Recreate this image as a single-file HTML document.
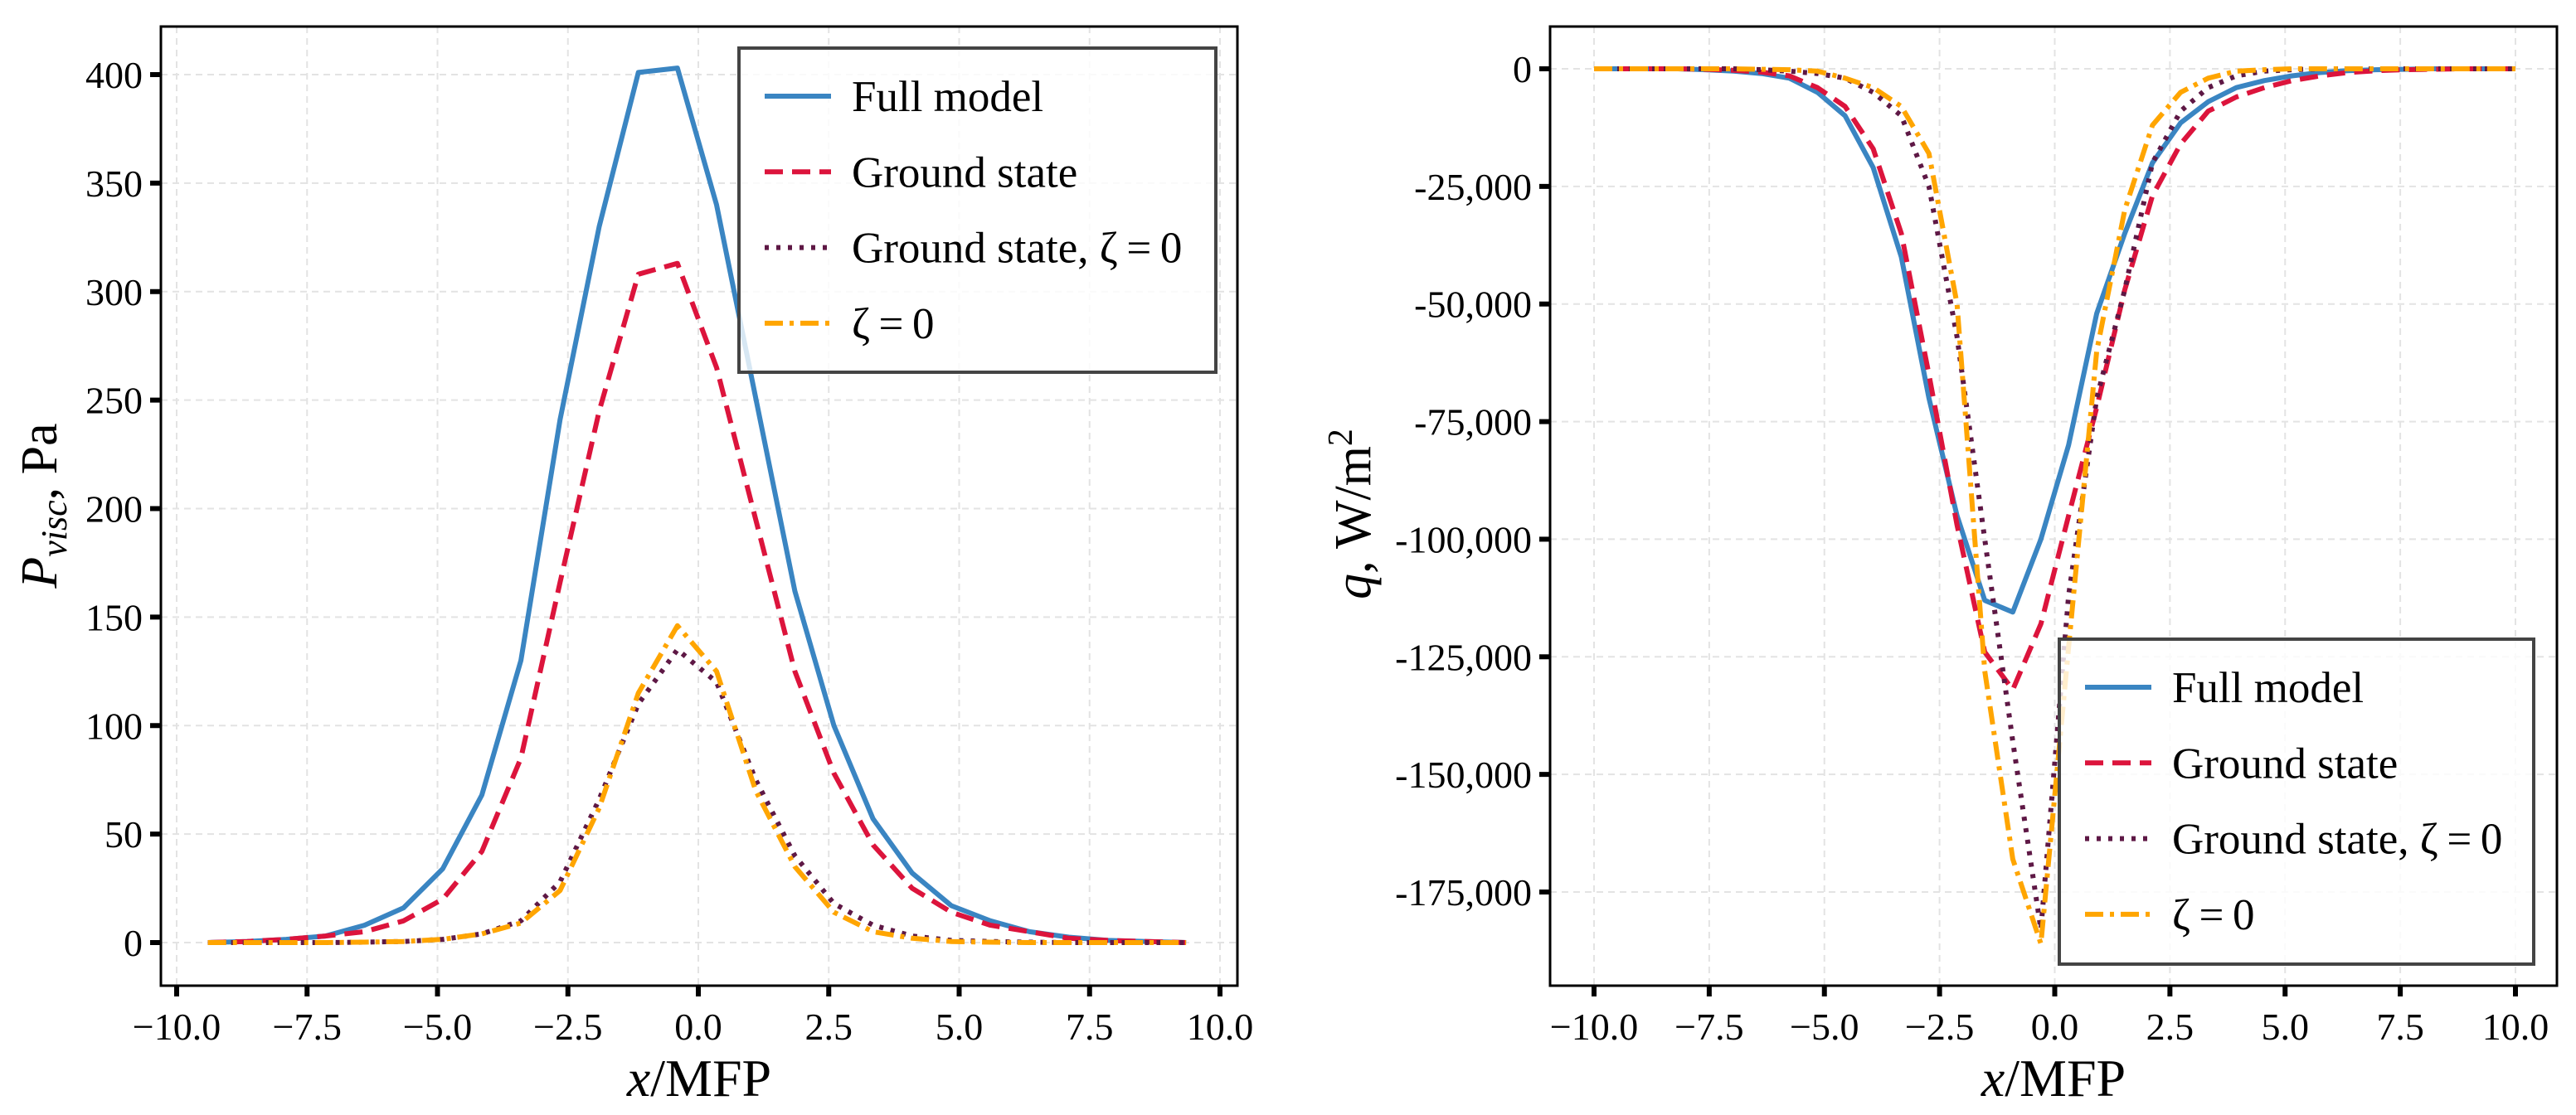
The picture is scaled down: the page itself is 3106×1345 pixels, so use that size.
<!DOCTYPE html>
<html><head><meta charset="utf-8">
<style>
html,body{margin:0;padding:0;background:#fff;}
svg{display:block;font-family:"Liberation Serif",serif;}
</style></head>
<body>
<svg id="fig" width="3106" height="1345" viewBox="0 0 3106 1345" xmlns="http://www.w3.org/2000/svg">
<g id="left"></g>
<g id="right"></g>
</svg>
<script>
// Left chart data
const leftX = [-9.4,-8.65,-7.9,-7.15,-6.4,-5.65,-4.9,-4.15,-3.4,-2.65,-1.9,-1.15,-0.4,0.35,1.1,1.85,2.6,3.35,4.1,4.85,5.6,6.35,7.1,7.85,8.6,9.35];
const leftFull = [0,0.5,1.5,3,8,16,34,68,130,241,330,401,403,340,251,162,100,57,32,17,10,5,2.5,1,0.5,0];
const leftGround = [0,0.5,1.5,3,5,10,20,42,85,166,245,308,313,265,195,125,78,45,25,14,8,5,2,1,0.5,0];
const leftGroundZ = [0,0,0,0,0.2,0.5,1.5,4,10,28,66,110,135,120,75,40,18,8,3,1,0.5,0.2,0,0,0,0];
const leftZeta = [0,0,0,0,0.2,0.5,1.5,4,9,24,62,115,146,125,70,35,14,5,2,0.5,0.2,0,0,0,0,0];
const leftYTicks = [0,50,100,150,200,250,300,350,400];
const xTicks = [-10,-7.5,-5,-2.5,0,2.5,5,7.5,10];
const xTickLabels = ["\u221210.0","\u22127.5","\u22125.0","\u22122.5","0.0","2.5","5.0","7.5","10.0"];
// Right chart data
const rightX = [-10,-9.39,-8.79,-8.18,-7.58,-6.97,-6.36,-5.76,-5.15,-4.55,-3.94,-3.33,-2.73,-2.12,-1.52,-0.91,-0.30,0.30,0.91,1.52,2.12,2.73,3.33,3.94,4.55,5.15,5.76,6.36,6.97,7.58,8.18,8.79,9.39,10];
const rightFull = [0,0,0,0,-200,-500,-1000,-2000,-5000,-10000,-21000,-40000,-70000,-95000,-113000,-115500,-100000,-80000,-52000,-35000,-20000,-11500,-7000,-4000,-2500,-1500,-800,-400,-200,-100,0,0,0,0];
const rightGround = [0,0,0,0,-100,-300,-700,-1500,-4000,-8000,-17000,-35000,-65000,-97000,-124000,-132000,-118000,-95000,-72000,-47000,-27000,-16000,-9000,-6000,-4000,-2500,-1500,-800,-400,-200,-100,0,0,0];
const rightGroundZ = [0,0,0,0,0,0,-200,-500,-1000,-2000,-5000,-10000,-25000,-57000,-100000,-143000,-183000,-112000,-70000,-47000,-20000,-9000,-4000,-1500,-500,-200,0,0,0,0,0,0,0,0];
const rightZeta = [0,0,0,0,0,0,-100,-200,-500,-2000,-4000,-8000,-18000,-50000,-128000,-168000,-186000,-123000,-60000,-30000,-12000,-5000,-2000,-500,-200,0,0,0,0,0,0,0,0,0];
const rightYTicks = [0,-25000,-50000,-75000,-100000,-125000,-150000,-175000];
const rightYTickLabels = ["0","-25,000","-50,000","-75,000","-100,000","-125,000","-150,000","-175,000"];
const legendLabels = ["Full model","Ground state","Ground state, \u03b6\u2009=\u20090","\u03b6\u2009=\u20090"];

const NS="http://www.w3.org/2000/svg";
const styles=[
 {c:"#3a85c2",d:""},
 {c:"#dc143c",d:"22,11"},
 {c:"#5e1845",d:"5,9"},
 {c:"#ffa500",d:"22,8,5,8"}
];
function mk(parent,tag,attrs){const e=document.createElementNS(NS,tag);for(const k in attrs)e.setAttribute(k,attrs[k]);parent.appendChild(e);return e;}

function chart(g,cfg){
  const sx=v=>cfg.x0+(v-(-10))/20*(cfg.x1-cfg.x0);
  const sy=v=>cfg.yA+(v-cfg.vA)/(cfg.vB-cfg.vA)*(cfg.yB-cfg.yA);
  cfg.yTicks.forEach((t,i)=>{
    const y=sy(t);
    const gl=mk(g,"line",{x1:cfg.L,x2:cfg.R,y1:y,y2:y,stroke:"#e3e3e3","stroke-width":2,"stroke-dasharray":"8,6"});
    
    
    const tk=mk(g,"line",{x1:cfg.L-13,x2:cfg.L,y1:y,y2:y,stroke:"#000","stroke-width":6});
    
    
    const tx=mk(g,"text",{x:cfg.L-22,y:y+16,"text-anchor":"end","font-size":46});
    tx.textContent=cfg.yLabels[i];
    
    
  });
  xTicks.forEach((t,i)=>{
    const x=sx(t);
    const gl=mk(g,"line",{x1:x,x2:x,y1:cfg.T,y2:cfg.B,stroke:"#e3e3e3","stroke-width":2,"stroke-dasharray":"8,6"});
    
    
    const tk=mk(g,"line",{x1:x,x2:x,y1:cfg.B,y2:cfg.B+13,stroke:"#000","stroke-width":6});
    
    
    const tx=mk(g,"text",{x:x,y:cfg.B+65,"text-anchor":"middle","font-size":46});
    tx.textContent=xTickLabels[i];
    
    
  });
  cfg.series.forEach((s,i)=>{
    const pts=cfg.xs.map((v,j)=>sx(v).toFixed(1)+","+sy(s[j]).toFixed(1)).join(" ");
    const pl=mk(g,"polyline",{points:pts,fill:"none",stroke:styles[i].c,"stroke-width":6,"stroke-linejoin":"round","stroke-dasharray":styles[i].d});
    
    
  });
  const fr=mk(g,"rect",{x:cfg.L,y:cfg.T,width:cfg.R-cfg.L,height:cfg.B-cfg.T,fill:"none",stroke:"#000","stroke-width":3});
  
  
  const lg=mk(g,"g",{});
  
  
  const lb=mk(lg,"rect",{x:cfg.lg.x,y:cfg.lg.y,width:cfg.lg.w,height:cfg.lg.h,fill:"rgba(255,255,255,0.8)",stroke:"#444","stroke-width":4});
  
  
  legendLabels.forEach((lab,i)=>{
    const y=cfg.lg.y+58+i*91.3;
    const ln=mk(lg,"line",{x1:cfg.lg.x+31,x2:cfg.lg.x+111,y1:y,y2:y,stroke:styles[i].c,"stroke-width":6,"stroke-dasharray":styles[i].d});
    
    
    const tx=mk(lg,"text",{x:cfg.lg.x+136,y:y+18,"font-size":53});
    tx.textContent=lab;
    
    
  });
  const xl=mk(g,"text",{x:(cfg.L+cfg.R)/2,y:1322,"text-anchor":"middle","font-size":64});
  xl.innerHTML='<tspan font-style="italic">x</tspan>/MFP';
  
  
  const yl=mk(g,"text",{x:0,y:0,"text-anchor":"middle","font-size":62,transform:`translate(${cfg.ylx},${cfg.yly}) rotate(-90)`});
  yl.innerHTML=cfg.ytitle;
  
  
}
chart(document.getElementById("left"),{
  L:194,R:1492,T:32,B:1189,x0:213,x1:1471,yA:1137,vA:0,yB:90,vB:400,
  yTicks:leftYTicks,yLabels:leftYTicks.map(String),xs:leftX,
  series:[leftFull,leftGround,leftGroundZ,leftZeta],
  lg:{x:891,y:58,w:575,h:391},ylx:68,yly:610,
  ytitle:'<tspan font-style="italic">P</tspan><tspan font-style="italic" font-size="44" dy="12">visc</tspan><tspan dy="-12">, Pa</tspan>'
});
chart(document.getElementById("right"),{
  L:1869,R:3083,T:32,B:1189,x0:1922,x1:3033,yA:83,vA:0,yB:1076,vB:-175000,
  yTicks:rightYTicks,yLabels:rightYTickLabels,xs:rightX,
  series:[rightFull,rightGround,rightGroundZ,rightZeta],
  lg:{x:2483,y:771,w:572,h:392},ylx:1652,yly:620,
  ytitle:'<tspan font-style="italic">q</tspan>, W/m<tspan font-size="42" dy="-22">2</tspan>'
});
</script>
</body></html>
